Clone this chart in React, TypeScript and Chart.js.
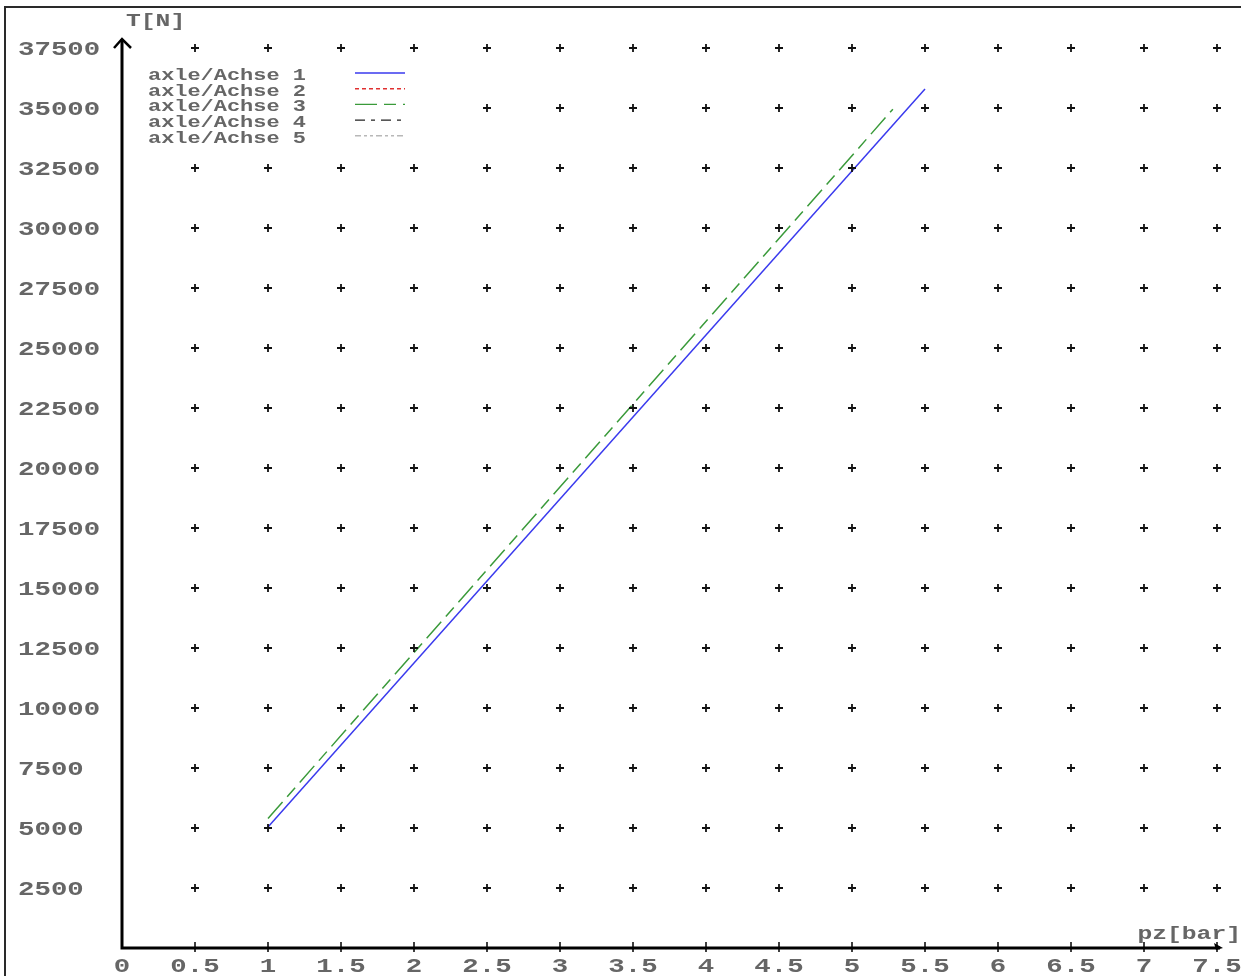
import React, { useEffect, useRef } from "react";
import { Chart, registerables } from "chart.js";

Chart.register(...registerables);

const X_TICKS = [0, 0.5, 1, 1.5, 2, 2.5, 3, 3.5, 4, 4.5, 5, 5.5, 6, 6.5, 7, 7.5];
const X_TICK_LABELS = ["0", "0.5", "1", "1.5", "2", "2.5", "3", "3.5", "4", "4.5", "5", "5.5", "6", "6.5", "7", "7.5"];
const Y_TICKS = [2500, 5000, 7500, 10000, 12500, 15000, 17500, 20000, 22500, 25000, 27500, 30000, 32500, 35000, 37500];
const Y_TICK_LABELS = ["2500", "5000", "7500", "10000", "12500", "15000", "17500", "20000", "22500", "25000", "27500", "30000", "32500", "35000", "37500"];
const X_TITLE = "pz[bar]";
const Y_TITLE = "T[N]";
const LEGEND_LABELS = ["axle/Achse 1", "axle/Achse 2", "axle/Achse 3", "axle/Achse 4", "axle/Achse 5"];

const AXLE1_PZ = [1, 5.5];
const AXLE1_T = [5040, 35790];
const AXLE2_PZ: number[] = [];
const AXLE2_T: number[] = [];
const AXLE3_PZ = [1, 5.28];
const AXLE3_T = [5400, 34950];
const AXLE4_PZ: number[] = [];
const AXLE4_T: number[] = [];
const AXLE5_PZ: number[] = [];
const AXLE5_T: number[] = [];

const SERIES_PZ = [AXLE1_PZ, AXLE2_PZ, AXLE3_PZ, AXLE4_PZ, AXLE5_PZ];
const SERIES_T = [AXLE1_T, AXLE2_T, AXLE3_T, AXLE4_T, AXLE5_T];
const SERIES_COLORS = ["#3a3aee", "#e03030", "#3a9a3a", "#222222", "#b8b8b8"];
const SERIES_DASHES = [[], [4, 3], [22, 7, 12, 7], [10, 6, 4, 6], [6, 3, 3, 3, 3, 3]];

const W = 1245;
const H = 976;
const MONO = "'Liberation Mono', 'DejaVu Sans Mono', monospace";
const LABEL_COLOR = "#666666";
const HSCALE = 1.37;

function drawStretched(ctx: CanvasRenderingContext2D, text: string, x: number, y: number, size: number, align: "left" | "center" | "right") {
  ctx.save();
  ctx.font = `bold ${size}px ${MONO}`;
  ctx.textAlign = "left";
  ctx.textBaseline = "middle";
  const w = ctx.measureText(text).width * HSCALE;
  let sx = x;
  if (align === "center") sx = x - w / 2;
  if (align === "right") sx = x - w;
  ctx.translate(sx, y);
  ctx.scale(HSCALE, 1);
  ctx.fillText(text, 0, 0);
  ctx.restore();
}

const overlayPlugin = {
  id: "overlay",
  afterDraw(chart: any) {
    const ctx: CanvasRenderingContext2D = chart.ctx;
    const xs = chart.scales.x;
    const ys = chart.scales.y;
    const x0 = xs.getPixelForValue(0);
    const y0 = ys.getPixelForValue(0);
    const area = chart.chartArea;

    ctx.save();
    // frame
    ctx.strokeStyle = "#2a2a2a";
    ctx.lineWidth = 2;
    ctx.beginPath();
    ctx.moveTo(5, H);
    ctx.lineTo(5, 7);
    ctx.lineTo(W - 4, 7);
    ctx.stroke();

    // axes
    ctx.strokeStyle = "#000";
    ctx.fillStyle = "#000";
    ctx.lineWidth = 3;
    ctx.beginPath();
    ctx.moveTo(x0, y0);
    ctx.lineTo(x0, area.top - 1);
    ctx.moveTo(x0 - 1.5, y0);
    ctx.lineTo(area.right - 2, y0);
    ctx.stroke();
    // y arrow
    ctx.lineWidth = 2.5;
    ctx.beginPath();
    ctx.moveTo(x0 - 8, area.top + 8);
    ctx.lineTo(x0, area.top - 1);
    ctx.lineTo(x0 + 9, area.top + 8);
    ctx.stroke();
    // x arrow
    ctx.beginPath();
    ctx.moveTo(area.right + 1, y0);
    ctx.lineTo(area.right - 8, y0 - 5);
    ctx.lineTo(area.right - 6, y0 + 2);
    ctx.closePath();
    ctx.fill();

    // x ticks
    ctx.lineWidth = 1.5;
    X_TICKS.forEach((v) => {
      if (v === 0) return;
      const px = xs.getPixelForValue(v);
      ctx.beginPath();
      ctx.moveTo(px, y0 - 6);
      ctx.lineTo(px, y0 + 4);
      ctx.stroke();
    });

    ctx.fillStyle = LABEL_COLOR;
    X_TICKS.forEach((v, i) => {
      drawStretched(ctx, X_TICK_LABELS[i], xs.getPixelForValue(v), y0 + 19, 20, "center");
    });
    Y_TICKS.forEach((v, i) => {
      drawStretched(ctx, Y_TICK_LABELS[i], 18, ys.getPixelForValue(v) + 2, 20, "left");
    });
    drawStretched(ctx, Y_TITLE, 126, 21, 18, "left");
    drawStretched(ctx, X_TITLE, 1241, 934, 18, "right");

    // legend box (opaque, hides grid crosses behind it)
    ctx.fillStyle = "#ffffff";
    ctx.fillRect(140, 62, 310, 88);
    LEGEND_LABELS.forEach((lab, i) => {
      const ly = 76 + i * 15.7;
      ctx.fillStyle = LABEL_COLOR;
      drawStretched(ctx, lab, 148, ly, 16, "left");
      ctx.save();
      ctx.strokeStyle = SERIES_COLORS[i];
      ctx.lineWidth = 1.4;
      ctx.setLineDash(SERIES_DASHES[i]);
      ctx.beginPath();
      ctx.moveTo(355, ly - 3);
      ctx.lineTo(405, ly - 3);
      ctx.stroke();
      ctx.restore();
    });
    ctx.restore();
  },
};

export default function App() {
  const ref = useRef<HTMLCanvasElement | null>(null);
  useEffect(() => {
    if (!ref.current) return;
    const crosses: { x: number; y: number }[] = [];
    X_TICKS.forEach((xv) => {
      if (xv === 0) return;
      Y_TICKS.forEach((yv) => crosses.push({ x: xv, y: yv }));
    });
    const lineSets = SERIES_PZ.map((pz, i) => ({
      label: LEGEND_LABELS[i],
      data: pz.map((p, j) => ({ x: p, y: SERIES_T[i][j] })),
      showLine: true,
      borderColor: SERIES_COLORS[i],
      borderWidth: 1.5,
      borderDash: SERIES_DASHES[i],
      pointRadius: 0,
      fill: false,
    }));
    const chart = new Chart(ref.current, {
      type: "scatter",
      data: {
        datasets: [
          {
            label: "grid",
            data: crosses,
            pointStyle: "cross",
            pointRadius: 4,
            borderColor: "#111",
            borderWidth: 1.8,
            showLine: false,
          } as any,
          ...lineSets,
        ],
      },
      options: {
        animation: false,
        responsive: false,
        devicePixelRatio: 1,
        layout: { padding: { left: 122, right: 23, top: 40, bottom: 28 } },
        plugins: { legend: { display: false }, tooltip: { enabled: false } },
        scales: {
          x: { type: "linear", display: false, min: 0, max: 1100 / 146 },
          y: { type: "linear", display: false, min: 0, max: 908 / 0.024 },
        },
      },
      plugins: [overlayPlugin],
    });
    return () => chart.destroy();
  }, []);
  return (
    <div style={{ position: "absolute", left: 0, top: 0, width: W, height: H, background: "#fff" }}>
      <canvas ref={ref} width={W} height={H} style={{ display: "block" }} />
    </div>
  );
}
